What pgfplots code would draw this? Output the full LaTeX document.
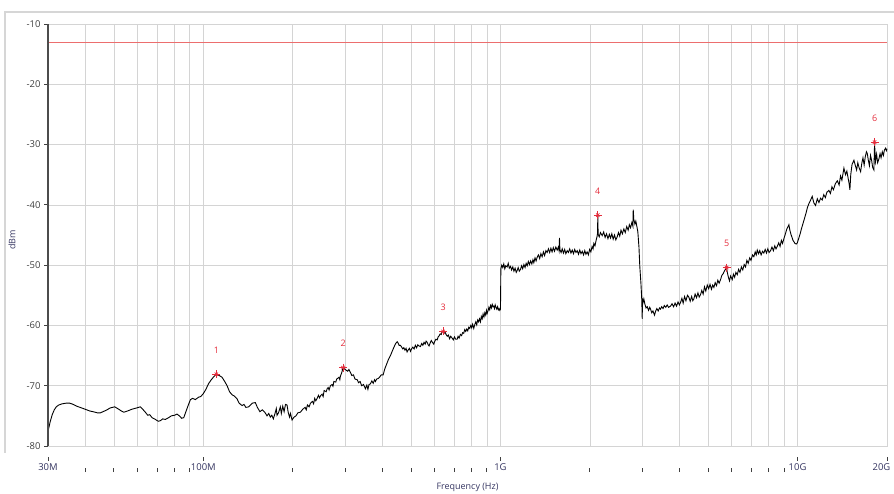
\documentclass[border=0pt]{standalone}
\usepackage{pgfplots}
\pgfplotsset{compat=1.18}
\usepackage{fontspec}
\setmainfont{Open Sans}
\definecolor{gridc}{RGB}{212,212,212}
\definecolor{limc}{RGB}{236,110,110}
\definecolor{mkc}{RGB}{228,45,60}
\definecolor{labc}{RGB}{52,52,96}
\definecolor{framec}{RGB}{214,214,214}
\begin{document}
\begin{tikzpicture}
\begin{axis}[name=ax, scale only axis, width=839bp, height=422bp,
  clip=false,
  xmode=log, xmin=30, xmax=20000, ymin=-80, ymax=-10,
  xtick={30,100,1000,10000,20000}, xticklabels={30M,100M,1G,10G,\hspace*{-11bp}20G},
  minor xtick={40,50,60,70,80,90,200,300,400,500,600,700,800,900,2000,3000,4000,5000,6000,7000,8000,9000},
  ytick={-80,-70,-60,-50,-40,-30,-20,-10},
  yticklabels={-80,-70,-60,-50,-40,-30,-20,-10},
  grid=both,
  major grid style={gridc, line width=0.7bp},
  minor grid style={gridc, line width=0.7bp},
  axis line style={gridc, line width=0.8bp},
  xtick pos=bottom, ytick pos=left, tick align=outside,
  major tick length=4bp, minor tick length=4bp,
  x tick style={yshift=-11bp, black!75, line width=0.9bp},
  minor x tick style={yshift=-11bp, black!75, line width=0.9bp},
  y tick style={black!75, line width=0.9bp},
  xticklabel style={font=\fontsize{9.5}{11}\selectfont, text=labc, yshift=-10bp},
  yticklabel style={font=\fontsize{9.5}{11}\selectfont, text=black!75},
  xlabel={Frequency (Hz)}, ylabel={dBm},
  every axis x label/.style={at={(rel axis cs:0.5,-0.0972)}, anchor=center, font=\fontsize{9}{11}\selectfont, text=labc},
  every axis y label/.style={at={(rel axis cs:-0.0429,0.488)}, rotate=90, anchor=center, font=\fontsize{9}{11}\selectfont, text=labc},
]
% limit line
\addplot[color=limc, draw=limc, line width=0.9bp, mark=none] coordinates {(30,-13) (20000,-13)};
% trace (frequency in MHz, level in dBm)
\addplot[color=black, line width=0.9bp, mark=none] table {
30 -77.6
30.5 -76.0
31 -74.8
31.5 -74.0
32 -73.5
32.6 -73.2
33.5 -73.0
34.5 -72.9
35.5 -72.9
36.5 -73.1
37.5 -73.4
38.5 -73.6
39.5 -73.8
40.5 -74.0
41.5 -74.2
42.5 -74.3
44 -74.5
45 -74.5
46 -74.3
47.4 -74.0
48.5 -73.7
50.3 -73.5
51.5 -73.8
53 -74.2
54 -74.4
55.5 -74.2
57.5 -73.9
59.5 -73.7
61.4 -73.5
62.5 -73.9
63.8 -74.4
65 -74.9
66 -74.8
67.2 -75.3
69 -75.6
70.5 -75.9
71.7 -75.8
73 -75.5
74.5 -75.6
76.4 -75.3
78 -75.0
80 -74.9
81.5 -74.7
83 -75.0
84.5 -75.4
85.9 -75.3
87.5 -74.2
89 -73.2
90.5 -72.3
92 -72.1
94 -72.3
96.4 -71.9
98 -71.8
100 -71.3
102 -70.6
104 -69.7
106 -69.1
108 -68.6
110.6 -68.1
113 -68.3
115.6 -68.6
118 -69.3
120.2 -70.0
122.5 -71.0
124.9 -71.5
127 -71.7
129.9 -72.2
132 -72.9
135 -73.3
137 -73.1
139 -73.6
142.1 -73.5
144 -73.2
146 -72.9
149.6 -72.8
152 -73.6
155 -74.3
158 -74.0
161 -74.4
163.8 -75.0
166 -74.6
168 -75.2
170 -74.9
172 -75.5
174 -74.7
176 -73.8
177 -74.9
179 -74.5
181.6 -73.5
183 -74.6
185 -73.4
187 -74.3
189 -73.1
191.3 -73.2
193 -74.4
195 -75.2
196.5 -74.6
198.9 -75.7
202 -75.2
205 -75.0
208 -74.5
212.1 -74.4
216 -73.9
220 -73.6
222 -74.0
224 -73.2
227 -73.5
229.3 -72.9
233 -72.6
235 -73.0
237 -72.1
239 -72.5
241 -72.2
244 -71.6
246 -72.0
247.7 -71.7
251 -71.4
253 -71.8
255 -70.8
259 -71.0
261 -70.5
263 -70.3
265 -70.7
267.7 -70.0
271 -69.8
273 -70.1
275 -69.3
279 -69.4
281 -68.9
283 -68.8
286 -68.6
288 -69.0
289.3 -68.4
292 -67.9
295.3 -67.0
298 -67.2
302 -67.4
306 -67.6
309 -67.3
312.6 -67.8
316 -68.3
320 -68.2
324 -68.9
329.3 -69.0
333 -69.5
337 -69.3
341 -70.0
346 -69.8
351.2 -70.5
355 -69.9
358 -70.6
361 -69.8
365 -69.7
369 -69.2
373 -69.6
377 -69.0
379.5 -69.3
383 -68.9
388 -68.8
393 -68.5
397 -68.2
402.8 -68.2
408 -67.2
414 -66.4
420 -65.6
426.3 -65.0
432 -64.3
438 -63.6
444 -63.0
449.1 -62.7
452 -62.9
456 -63.3
460.7 -63.3
465 -63.6
469 -63.9
473 -63.7
477 -64.1
481 -63.8
485 -64.4
490 -64.0
494 -63.8
497.7 -64.3
502 -63.9
507 -63.6
512 -63.9
517 -63.3
522 -63.7
527 -63.2
532 -63.4
537.9 -63.5
543 -63.0
548 -63.3
553 -62.8
558 -63.1
562 -62.6
566.6 -62.8
571 -63.2
575 -63.4
580 -62.9
585 -62.5
590 -62.8
596.3 -63.1
600 -62.7
606 -62.3
612.2 -62.4
617 -61.9
622 -61.7
627 -61.4
632 -61.5
636 -61.0
641 -61.0
646 -61.3
651 -61.1
656 -61.5
662 -61.8
668 -61.6
674 -62.2
680 -61.8
687.6 -62.1
694 -62.4
700 -61.9
707 -62.3
714.7 -62.3
720 -61.8
726 -62.1
733 -61.5
740 -61.7
746 -61.2
752.2 -61.3
758 -60.7
764 -61.0
770 -60.6
776 -60.9
782 -60.3
788 -60.5
795 -60.0
800 -60.4
806 -59.8
813.1 -60.5
820 -59.8
826 -59.4
832 -59.9
838 -59.1
844 -59.4
850 -58.9
856.5 -59.4
862 -58.5
868 -58.9
874 -58.1
880 -58.6
886 -57.9
892 -58.3
897 -57.5
902.1 -58.0
908 -57.6
914 -57.0
920 -57.4
926 -56.7
932 -57.1
938 -56.5
944 -56.9
949.4 -56.8
955 -57.2
960 -56.6
966 -57.0
972 -57.3
978 -56.9
984 -57.4
990 -57.2
994.6 -57.5
1000 -57.3
1003 -50.6
1010 -50.0
1018 -50.4
1026 -49.8
1034 -50.6
1042 -50.1
1053 -50.3
1062 -49.7
1071 -50.5
1081 -50.2
1090 -50.8
1100 -50.3
1110 -51.0
1120 -50.5
1130 -51.2
1138 -50.9
1147 -50.4
1157 -51.0
1168 -50.7
1178 -50.1
1188 -50.6
1199 -49.9
1210 -50.4
1220 -49.7
1230 -50.1
1241 -49.4
1252 -49.9
1263 -49.3
1275 -49.8
1286 -49.1
1295 -49.6
1307 -48.8
1318 -49.3
1329 -48.7
1342 -48.3
1355 -48.9
1368 -48.1
1381 -48.6
1395 -47.8
1408 -48.4
1422 -47.6
1436 -47.9
1450 -47.3
1464 -47.9
1478 -47.2
1492 -47.8
1506 -47.1
1520 -47.7
1536 -47.0
1552 -47.5
1566 -47.0
1575 -47.6
1580 -45.5
1585 -47.4
1600 -47.9
1614 -47.3
1629 -48.0
1645 -47.4
1660 -48.1
1677 -47.6
1693 -47.9
1710 -47.3
1727 -48.0
1744 -47.5
1761 -48.1
1778 -47.4
1795 -47.9
1813 -47.6
1831 -48.2
1849 -47.5
1867 -48.1
1885 -47.7
1904 -48.3
1922 -47.6
1940 -48.2
1958 -47.8
1977 -48.3
1996 -47.4
2015 -47.8
2034 -46.9
2050 -47.3
2062 -46.4
2080 -46.8
2100 -45.8
2115 -45.2
2122 -44.7
2126 -41.8
2132 -44.9
2150 -45.3
2170 -44.6
2200 -45.1
2225 -44.5
2250 -45.4
2275 -44.8
2300 -45.6
2325 -44.9
2347 -45.5
2370 -44.8
2395 -45.7
2420 -45.0
2445 -45.8
2471 -45.3
2495 -44.6
2520 -45.2
2545 -44.2
2572 -44.8
2602 -44.0
2630 -44.6
2660 -43.6
2690 -44.2
2715 -43.3
2741 -43.8
2770 -42.9
2790 -43.5
2798 -40.8
2810 -42.4
2835 -43.2
2855 -42.7
2871 -43.3
2900 -44.5
2925 -47.0
2944 -50.2
2970 -53.0
2990 -55.8
3000 -58.9
3005 -55.5
3015 -56.3
3038 -55.6
3060 -56.4
3090 -57.1
3120 -56.9
3150 -57.5
3180 -57.0
3200 -57.3
3230 -57.9
3260 -57.6
3300 -58.3
3330 -57.6
3360 -57.2
3395 -57.6
3430 -57.1
3457 -57.3
3490 -56.9
3525 -57.2
3560 -56.7
3600 -57.0
3640 -56.6
3680 -57.0
3736 -56.8
3780 -56.4
3825 -56.9
3870 -56.3
3915 -56.8
3960 -56.1
4000 -56.6
4037 -56.2
4080 -55.5
4120 -56.3
4165 -55.2
4210 -55.9
4260 -55.0
4305 -55.3
4350 -56.0
4400 -55.2
4440 -55.9
4475 -55.6
4520 -54.8
4570 -55.4
4620 -54.6
4665 -55.3
4713 -54.9
4760 -54.2
4810 -54.8
4860 -53.6
4910 -54.3
4966 -53.3
5020 -53.9
5075 -53.2
5130 -54.0
5180 -53.3
5228 -53.7
5280 -52.9
5335 -53.4
5390 -52.5
5445 -53.0
5505 -52.4
5560 -51.7
5620 -51.4
5680 -50.9
5740 -50.6
5768 -50.4
5800 -51.2
5850 -52.0
5900 -52.6
5950 -51.8
6028 -52.4
6080 -51.5
6140 -52.0
6200 -51.2
6266 -51.6
6330 -50.7
6400 -51.2
6470 -50.3
6540 -50.8
6610 -49.9
6682 -50.3
6750 -49.2
6820 -49.7
6900 -48.8
6970 -49.2
7050 -48.3
7127 -48.6
7200 -47.8
7260 -48.3
7316 -47.5
7390 -48.1
7460 -47.6
7540 -48.3
7620 -47.7
7699 -48.0
7780 -47.4
7860 -48.0
7940 -47.3
8020 -47.9
8110 -47.6
8200 -47.0
8290 -47.6
8380 -46.8
8460 -47.3
8541 -46.9
8640 -46.3
8730 -46.9
8820 -45.9
8900 -46.4
8994 -45.6
9100 -44.8
9200 -44.0
9290 -43.6
9348 -43.3
9420 -44.2
9500 -44.9
9580 -45.4
9650 -45.9
9716 -46.1
9800 -46.4
9900 -46.5
9977 -46.3
10100 -45.5
10200 -44.8
10300 -44.0
10400 -43.3
10500 -42.6
10600 -41.9
10700 -41.2
10800 -40.4
10915 -39.8
11063 -39.2
11200 -38.6
11350 -39.7
11497 -40.1
11650 -39.0
11800 -39.6
11951 -38.9
12100 -39.2
12250 -38.3
12400 -38.8
12550 -37.9
12747 -37.6
12900 -38.1
13050 -37.0
13200 -37.5
13400 -36.5
13607 -36.0
13800 -36.7
13950 -35.2
14100 -35.9
14321 -33.9
14500 -35.0
14650 -34.4
14800 -35.6
14900 -36.4
15002 -37.5
15100 -35.0
15250 -33.3
15475 -32.6
15650 -33.5
15800 -34.2
15950 -33.0
16100 -33.8
16300 -34.5
16450 -33.1
16600 -32.2
16750 -33.4
16900 -32.0
17050 -31.2
17167 -31.5
17300 -32.6
17450 -33.5
17600 -31.8
17750 -32.6
17900 -33.8
18067 -34.2
18160 -29.9
18300 -32.8
18450 -31.6
18600 -33.0
18779 -32.4
18950 -31.5
19100 -32.2
19282 -31.2
19450 -31.8
19600 -30.9
19782 -30.6
19900 -31.0
20000 -30.7
};
% markers
\addplot[only marks, mark=x, mark size=2.4bp, color=mkc, line width=0.7bp] coordinates {
(110.6,-68.1) (295.3,-67.0) (641,-61.0) (2126,-41.7) (5768,-50.4) (18160,-29.6)};
\addplot[only marks, mark=+, mark size=4bp, color=mkc, line width=0.8bp,
  nodes near coords, point meta=explicit symbolic,
  every node near coord/.append style={anchor=center, yshift=24bp, text=mkc, font=\fontsize{9}{10}\selectfont}]
  table[meta=l] {
x y l
110.6 -68.1 1
295.3 -67.0 2
641 -61.0 3
2126 -41.7 4
5768 -50.4 5
18160 -29.6 6
};
% dark left axis line
\draw[black!70, line width=1.4bp] (rel axis cs:0,0) -- (rel axis cs:0,1);
% outer panel frame
\draw[framec, line width=1.5bp] (rel axis cs:1.0083,1.0284) -- (rel axis cs:-0.0513,1.0284) -- (rel axis cs:-0.0513,-0.0166);
\end{axis}
\pgfresetboundingbox
\path[use as bounding box] ([shift={(-48bp,-48bp)}]ax.south west) rectangle ([shift={(7bp,24bp)}]ax.north east);
\end{tikzpicture}
\end{document}
